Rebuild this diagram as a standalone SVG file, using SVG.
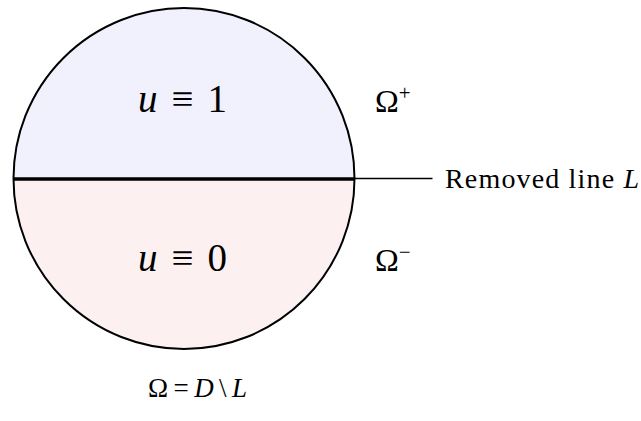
<svg xmlns="http://www.w3.org/2000/svg" width="641" height="421" viewBox="0 0 641 421">
<style>
.t{font-family:"Liberation Serif","DejaVu Serif",serif;fill:#000}
.i{font-style:italic}
</style>
<rect width="641" height="421" fill="#fff"/>
<g id="upper">
<path d="M13.5,179 A170.5,170.5 0 0 1 354.5,179 Z" fill="#f1f1fd"/>
<text class="t" x="138" y="112" font-size="39" textLength="89"><tspan class="i">u</tspan> ≡ 1</text>
</g>
<g id="lower">
<path d="M13.5,179 A170.5,170.5 0 0 0 354.5,179 Z" fill="#fdf0f0"/>
<text class="t" x="138" y="271" font-size="39" textLength="89"><tspan class="i">u</tspan> ≡ 0</text>
</g>
<g id="boundary">
<circle cx="184" cy="178.5" r="170.5" fill="none" stroke="#000" stroke-width="2"/>
</g>
<g id="connectors">
<line x1="13.5" y1="179" x2="354.5" y2="179" stroke="#000" stroke-width="3.5"/>
<line x1="354.5" y1="178.5" x2="432.5" y2="178.5" stroke="#000" stroke-width="1.5"/>
</g>
<g id="label-L">
<text class="t" x="445" y="188" font-size="28" textLength="194">Removed line <tspan class="i">L</tspan></text>
</g>
<g id="omega-plus">
<text class="t" x="375" y="112" font-size="32">Ω<tspan font-size="21" dy="-12">+</tspan></text>
</g>
<g id="omega-minus">
<text class="t" x="375" y="271" font-size="32">Ω<tspan font-size="21" dy="-12">−</tspan></text>
</g>
<g id="omega-def">
<text class="t" x="148" y="397" font-size="27" textLength="99">Ω = <tspan class="i">D</tspan> \ <tspan class="i">L</tspan></text>
</g>
</svg>
